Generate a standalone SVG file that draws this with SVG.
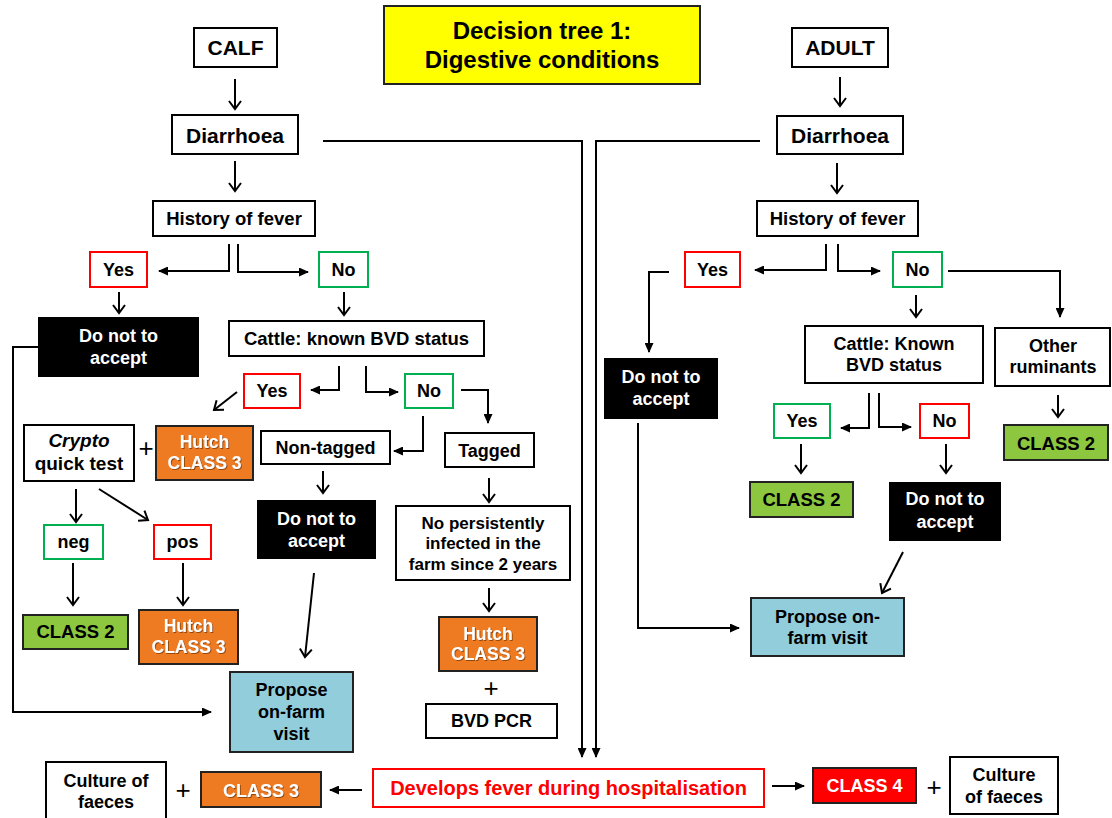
<svg xmlns="http://www.w3.org/2000/svg" width="1112" height="818" viewBox="0 0 1112 818">
<style>
text{font-family:"Liberation Sans",Arial,sans-serif;font-weight:bold;text-anchor:middle;fill:#000}
.b{fill:#fff;stroke:#000;stroke-width:2}
.red{fill:#fff;stroke:#ff0000;stroke-width:2}
.grn{fill:#fff;stroke:#00b050;stroke-width:2}
.blk{fill:#000;stroke:#000;stroke-width:2}
.org{fill:#ee7a22;stroke:#222;stroke-width:2}
.lg{fill:#8dc63f;stroke:#222;stroke-width:2}
.lb{fill:#92cddc;stroke:#222;stroke-width:2}
.ttl{fill:#ffff00;stroke:#222;stroke-width:2}
.wt{fill:#fff}
.sh{fill:#fff;filter:url(#shadow)}
.c{fill:none;stroke:#000;stroke-width:2}
.s{marker-end:url(#sa)}
.o{marker-end:url(#oa)}
.plus{font-weight:normal;font-size:26px}
</style>
<defs>
<marker id="sa" markerUnits="userSpaceOnUse" markerWidth="10" markerHeight="9" refX="9" refY="4.5" orient="auto" viewBox="0 0 10 9">
<path d="M0,0 L10,4.5 L0,9 z" fill="#000"/>
</marker>
<marker id="oa" markerUnits="userSpaceOnUse" markerWidth="11" markerHeight="14" refX="9" refY="7" orient="auto" viewBox="0 0 11 14">
<path d="M1,1 L9,7 L1,13" fill="none" stroke="#000" stroke-width="2"/>
</marker>
<filter id="shadow" x="-10%" y="-10%" width="130%" height="140%">
<feDropShadow dx="1" dy="1" stdDeviation="0.6" flood-color="#6a3000" flood-opacity="0.7"/>
</filter>
</defs>

<g id="connectors">
<line class="c o" x1="235" y1="79" x2="235" y2="109"/>
<line class="c o" x1="235" y1="161" x2="235" y2="191"/>
<polyline class="c s" points="229,244 229,271 159,271"/>
<polyline class="c s" points="238,244 238,272 308,272"/>
<line class="c o" x1="119" y1="292" x2="119" y2="313"/>
<line class="c o" x1="344" y1="292" x2="344" y2="315"/>
<polyline class="c s" points="39,347 13,347 13,712 211,712"/>
<polyline class="c s" points="339,366 339,390 311,390"/>
<polyline class="c s" points="366,366 366,392 398,392"/>
<line class="c o" x1="237" y1="392" x2="214" y2="410"/>
<polyline class="c s" points="461,390 488,390 488,423"/>
<polyline class="c s" points="423,416 423,451 394,451"/>
<line class="c o" x1="323" y1="471" x2="323" y2="493"/>
<line class="c o" x1="489" y1="478" x2="489" y2="502"/>
<line class="c o" x1="76" y1="489" x2="76" y2="522"/>
<line class="c o" x1="99" y1="489" x2="148" y2="520"/>
<line class="c o" x1="73" y1="563" x2="73" y2="605"/>
<line class="c o" x1="183" y1="563" x2="183" y2="605"/>
<line class="c o" x1="314" y1="573" x2="305" y2="657"/>
<line class="c o" x1="489" y1="588" x2="489" y2="611"/>
<line class="c s" x1="362" y1="790" x2="330" y2="790"/>
<polyline class="c s" points="323,141 582,141 582,757"/>
<polyline class="c s" points="760,141 596,141 596,757"/>
<line class="c o" x1="840" y1="77" x2="840" y2="106"/>
<line class="c o" x1="837" y1="163" x2="837" y2="193"/>
<polyline class="c s" points="826,244 826,270 755,270"/>
<polyline class="c s" points="838,244 838,271 880,271"/>
<polyline class="c s" points="669,272 649,272 649,352"/>
<polyline class="c s" points="948,271 1060,271 1060,317"/>
<line class="c o" x1="916" y1="295" x2="916" y2="317"/>
<polyline class="c s" points="638,423 638,628 739,628"/>
<polyline class="c s" points="869,393 869,428 841,428"/>
<polyline class="c s" points="879,393 879,427 911,427"/>
<line class="c o" x1="801" y1="444" x2="801" y2="473"/>
<line class="c o" x1="946" y1="444" x2="946" y2="473"/>
<line class="c o" x1="903" y1="552" x2="882" y2="593"/>
<line class="c o" x1="1058" y1="395" x2="1058" y2="417"/>
<line class="c s" x1="772" y1="786" x2="804" y2="786"/>
</g>

<g id="title"><rect class="ttl" x="384" y="6" width="316" height="78"/>
<text x="542" y="39" font-size="24">Decision tree 1:</text>
<text x="542" y="68" font-size="24">Digestive conditions</text></g>

<g id="calf"><rect class="b" x="194" y="28" width="83" height="39"/><text x="235.5" y="55" font-size="21">CALF</text></g>
<g id="calf-diarrhoea"><rect class="b" x="172" y="115" width="126" height="39"/><text x="235" y="143" font-size="21">Diarrhoea</text></g>
<g id="calf-history"><rect class="b" x="153" y="201" width="162" height="35"/><text x="234" y="225" font-size="18.5">History of fever</text></g>
<g id="calf-yes"><rect class="red" x="90" y="252" width="57" height="35"/><text x="118.5" y="276" font-size="18">Yes</text></g>
<g id="calf-no"><rect class="grn" x="319" y="252" width="49" height="35"/><text x="343.5" y="276" font-size="18">No</text></g>
<g id="calf-reject1"><rect class="blk" x="39" y="318" width="159" height="58"/><text class="wt" x="118.5" y="342" font-size="18">Do not to</text><text class="wt" x="118.5" y="364" font-size="18">accept</text></g>
<g id="calf-bvd"><rect class="b" x="229" y="321" width="255" height="35"/><text x="356.5" y="345" font-size="18.5">Cattle: known BVD status</text></g>
<g id="calf-bvd-yes"><rect class="red" x="244" y="374" width="56" height="34"/><text x="272" y="397" font-size="18">Yes</text></g>
<g id="calf-bvd-no"><rect class="grn" x="405" y="374" width="48" height="34"/><text x="429" y="397" font-size="18">No</text></g>
<g id="crypto"><rect class="b" x="24" y="425" width="110" height="56"/><text x="79" y="447" font-size="19"><tspan font-style="italic">Crypto</tspan></text><text x="79" y="470" font-size="19">quick test</text></g>
<g id="plus1"><text class="plus" x="146" y="457">+</text></g>
<g id="hutch1"><rect class="org" x="156" y="426" width="97" height="54"/><text class="sh" x="204.5" y="448" font-size="17.5">Hutch</text><text class="sh" x="204.5" y="469" font-size="17.5">CLASS 3</text></g>
<g id="nontagged"><rect class="b" x="261" y="431" width="129" height="33"/><text x="325.5" y="454" font-size="18">Non-tagged</text></g>
<g id="tagged"><rect class="b" x="445" y="433" width="89" height="34"/><text x="489.5" y="457" font-size="18">Tagged</text></g>
<g id="neg"><rect class="grn" x="44" y="525" width="59" height="34"/><text x="73.5" y="548" font-size="18">neg</text></g>
<g id="pos"><rect class="red" x="154" y="525" width="57" height="34"/><text x="182.5" y="548" font-size="18">pos</text></g>
<g id="calf-reject2"><rect class="blk" x="258" y="501" width="117" height="57"/><text class="wt" x="316.5" y="525" font-size="18">Do not to</text><text class="wt" x="316.5" y="547" font-size="18">accept</text></g>
<g id="nopi"><rect class="b" x="396" y="506" width="174" height="74"/><text x="483" y="529" font-size="17">No persistently</text><text x="483" y="549" font-size="17">infected in the</text><text x="483" y="570" font-size="17">farm since 2 years</text></g>
<g id="class2-left"><rect class="lg" x="23" y="615" width="105" height="34"/><text x="75.5" y="638" font-size="18.5">CLASS 2</text></g>
<g id="hutch2"><rect class="org" x="139" y="610" width="99" height="54"/><text class="sh" x="188.5" y="632" font-size="17.5">Hutch</text><text class="sh" x="188.5" y="653" font-size="17.5">CLASS 3</text></g>
<g id="propose-left"><rect class="lb" x="230" y="672" width="123" height="80"/><text x="291.5" y="696" font-size="18">Propose</text><text x="291.5" y="718" font-size="18">on-farm</text><text x="291.5" y="740" font-size="18">visit</text></g>
<g id="hutch3"><rect class="org" x="439" y="617" width="98" height="54"/><text class="sh" x="488" y="640" font-size="17.5">Hutch</text><text class="sh" x="488" y="660" font-size="17.5">CLASS 3</text></g>
<g id="plus2"><text class="plus" x="491" y="697">+</text></g>
<g id="bvdpcr"><rect class="b" x="426" y="704" width="131" height="34"/><text x="491.5" y="727" font-size="18">BVD PCR</text></g>

<g id="culture-left"><rect class="b" x="46" y="762" width="120" height="60"/><text x="106" y="787" font-size="18">Culture of</text><text x="106" y="808" font-size="18">faeces</text></g>
<g id="plus3"><text class="plus" x="183" y="799">+</text></g>
<g id="class3"><rect class="org" x="201" y="772" width="120" height="35"/><text class="sh" x="261" y="797" font-size="18">CLASS 3</text></g>
<g id="develops"><rect class="red" x="373" y="769" width="391" height="38"/><text x="568.5" y="795" font-size="20" fill="#ff0000" style="fill:#ff0000">Develops fever during hospitalisation</text></g>
<g id="class4"><rect fill="#ff0000" stroke="#222" stroke-width="2" x="813" y="768" width="103" height="35"/><text class="wt" x="864.5" y="792" font-size="18">CLASS 4</text></g>
<g id="plus4"><text class="plus" x="934" y="796">+</text></g>
<g id="culture-right"><rect class="b" x="950" y="757" width="108" height="57"/><text x="1004" y="781" font-size="18">Culture</text><text x="1004" y="803" font-size="18">of faeces</text></g>

<g id="adult"><rect class="b" x="792" y="28" width="96" height="39"/><text x="840" y="55" font-size="21">ADULT</text></g>
<g id="adult-diarrhoea"><rect class="b" x="777" y="116" width="126" height="38"/><text x="840" y="143" font-size="21">Diarrhoea</text></g>
<g id="adult-history"><rect class="b" x="757" y="201" width="161" height="35"/><text x="837.5" y="225" font-size="18.5">History of fever</text></g>
<g id="adult-yes"><rect class="red" x="685" y="252" width="55" height="35"/><text x="712.5" y="276" font-size="18">Yes</text></g>
<g id="adult-no"><rect class="grn" x="893" y="252" width="49" height="35"/><text x="917.5" y="276" font-size="18">No</text></g>
<g id="adult-reject1"><rect class="blk" x="605" y="359" width="112" height="59"/><text class="wt" x="661" y="383" font-size="18">Do not to</text><text class="wt" x="661" y="405" font-size="18">accept</text></g>
<g id="adult-bvd"><rect class="b" x="805" y="326" width="178" height="57"/><text x="894" y="350" font-size="18">Cattle: Known</text><text x="894" y="371" font-size="18">BVD status</text></g>
<g id="other"><rect class="b" x="995" y="328" width="115" height="58"/><text x="1053" y="352" font-size="18">Other</text><text x="1053" y="373" font-size="18">ruminants</text></g>
<g id="adult-bvd-yes"><rect class="grn" x="774" y="404" width="56" height="34"/><text x="802" y="427" font-size="18">Yes</text></g>
<g id="adult-bvd-no"><rect class="red" x="920" y="404" width="49" height="34"/><text x="944.5" y="427" font-size="18">No</text></g>
<g id="class2-right"><rect class="lg" x="1004" y="425" width="104" height="35"/><text x="1056" y="450" font-size="18.5">CLASS 2</text></g>
<g id="class2-mid"><rect class="lg" x="750" y="482" width="103" height="35"/><text x="801.5" y="506" font-size="18.5">CLASS 2</text></g>
<g id="adult-reject2"><rect class="blk" x="890" y="483" width="110" height="57"/><text class="wt" x="945" y="505" font-size="18">Do not to</text><text class="wt" x="945" y="528" font-size="18">accept</text></g>
<g id="propose-right"><rect class="lb" x="751" y="598" width="153" height="58"/><text x="827.5" y="623" font-size="18">Propose on-</text><text x="827.5" y="644" font-size="18">farm visit</text></g>
</svg>
